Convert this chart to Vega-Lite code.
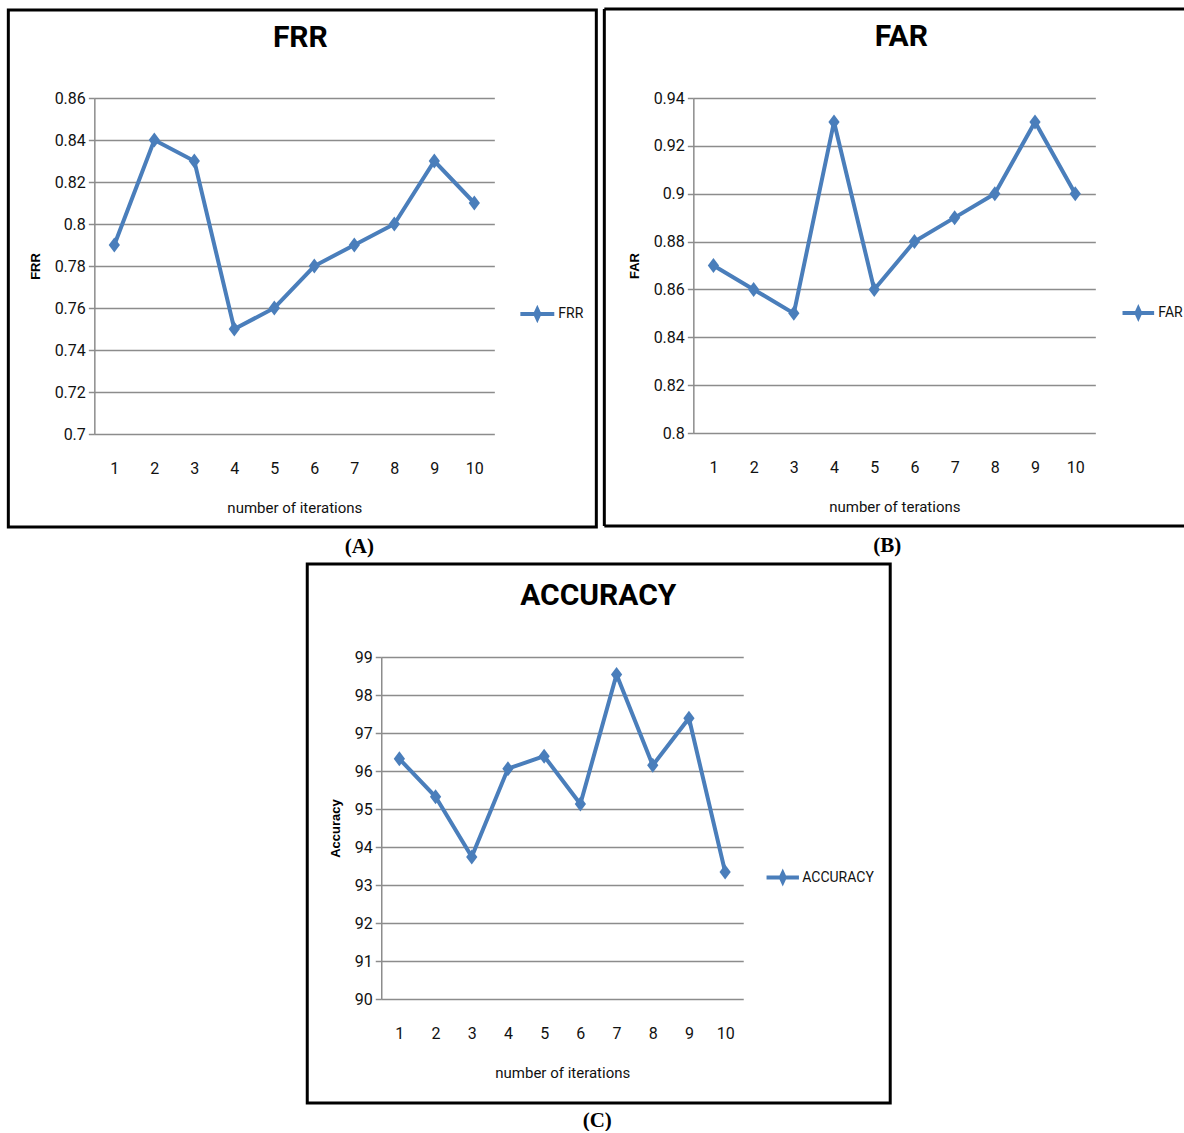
{
  "$schema": "https://vega.github.io/schema/vega-lite/v6.json",
  "padding": {"left": 6, "top": 7, "right": 0, "bottom": 0},
  "background": "white",
  "datasets": {
    "frr": [
      {"iter": 1, "value": 0.79, "series": "FRR"},
      {"iter": 2, "value": 0.84, "series": "FRR"},
      {"iter": 3, "value": 0.83, "series": "FRR"},
      {"iter": 4, "value": 0.75, "series": "FRR"},
      {"iter": 5, "value": 0.76, "series": "FRR"},
      {"iter": 6, "value": 0.78, "series": "FRR"},
      {"iter": 7, "value": 0.79, "series": "FRR"},
      {"iter": 8, "value": 0.80, "series": "FRR"},
      {"iter": 9, "value": 0.83, "series": "FRR"},
      {"iter": 10, "value": 0.81, "series": "FRR"}
    ],
    "far": [
      {"iter": 1, "value": 0.87, "series": "FAR"},
      {"iter": 2, "value": 0.86, "series": "FAR"},
      {"iter": 3, "value": 0.85, "series": "FAR"},
      {"iter": 4, "value": 0.93, "series": "FAR"},
      {"iter": 5, "value": 0.86, "series": "FAR"},
      {"iter": 6, "value": 0.88, "series": "FAR"},
      {"iter": 7, "value": 0.89, "series": "FAR"},
      {"iter": 8, "value": 0.90, "series": "FAR"},
      {"iter": 9, "value": 0.93, "series": "FAR"},
      {"iter": 10, "value": 0.90, "series": "FAR"}
    ],
    "acc": [
      {"iter": 1, "value": 96.32, "series": "ACCURACY"},
      {"iter": 2, "value": 95.32, "series": "ACCURACY"},
      {"iter": 3, "value": 93.74, "series": "ACCURACY"},
      {"iter": 4, "value": 96.06, "series": "ACCURACY"},
      {"iter": 5, "value": 96.39, "series": "ACCURACY"},
      {"iter": 6, "value": 95.13, "series": "ACCURACY"},
      {"iter": 7, "value": 98.54, "series": "ACCURACY"},
      {"iter": 8, "value": 96.15, "series": "ACCURACY"},
      {"iter": 9, "value": 97.39, "series": "ACCURACY"},
      {"iter": 10, "value": 93.34, "series": "ACCURACY"}
    ]
  },
  "config": {
    "view": {"stroke": null},
    "font": "Roboto",
    "axisY": {
      "grid": true, "gridColor": "#8c8c8c", "gridWidth": 1.5,
      "domainColor": "#8c8c8c", "domainWidth": 1.5,
      "tickColor": "#8c8c8c", "tickSize": 6, "tickWidth": 1.5, "tickCount": 20,
      "labelFont": "Roboto", "labelFontSize": 16, "labelColor": "#111", "labelPadding": 3,
      "titleFont": "Liberation Sans", "titleFontSize": 13, "titleFontWeight": "bold", "titleColor": "black", "titlePadding": 12
    },
    "axisX": {
      "grid": false, "ticks": false, "domain": false, "tickCount": 20,
      "labelFont": "Roboto", "labelFontSize": 16, "labelColor": "#111", "labelPadding": 26,
      "titleFont": "Roboto", "titleFontSize": 15, "titleFontWeight": "normal", "titleColor": "#111", "titlePadding": 24
    },
    "title": {"font": "Roboto", "fontSize": 30, "fontWeight": "bold", "color": "black", "baseline": "alphabetic"},
    "legend": {
      "title": null, "padding": 0,
      "symbolType": "M-1,0H1M0,-0.26L0.12,0L0,0.26L-0.12,0Z",
      "symbolSize": 1150, "symbolStrokeWidth": 4, "symbolStrokeColor": "#4a7ebb", "symbolFillColor": "#4a7ebb",
      "labelFont": "Roboto", "labelFontSize": 14, "labelColor": "#111", "labelOffset": 2
    }
  },
  "resolve": {"scale": {"color": "independent"}, "legend": {"color": "independent"}},
  "vconcat": [
    {
      "resolve": {"scale": {"color": "independent"}, "legend": {"color": "independent"}},
      "hconcat": [
        {
          "width": 400, "height": 336,
          "title": {"text": "FRR", "dx": 6, "offset": -44.5},
          "layer": [
            {
              "data": {"values": [{}]},
              "mark": {"type": "rect", "fill": null, "stroke": "black", "strokeWidth": 3},
              "encoding": {
                "x": {"datum": -1.65, "type": "quantitative"}, "x2": {"datum": 13.05},
                "y": {"datum": 0.9019, "type": "quantitative"}, "y2": {"datum": 0.6557}
              }
            },
            {
              "data": {"values": [{}]},
              "mark": {"type": "text", "text": "(A)", "font": "Liberation Serif", "fontWeight": "bold", "fontSize": 21, "color": "black"},
              "encoding": {
                "x": {"datum": 7.125, "type": "quantitative"},
                "y": {"datum": 0.6462, "type": "quantitative"}
              }
            },
            {
              "data": {"name": "frr"},
              "mark": {"type": "line", "strokeWidth": 4, "point": {"shape": "M0,-1L0.75,0L0,1L-0.75,0Z", "size": 225, "filled": true}},
              "encoding": {
                "x": {"field": "iter", "type": "quantitative", "scale": {"domain": [0.5, 10.5], "nice": false, "zero": false},
                      "axis": {"values": [1,2,3,4,5,6,7,8,9,10], "format": "d", "title": "number of iterations"}},
                "y": {"field": "value", "type": "quantitative", "scale": {"domain": [0.70, 0.86], "nice": false, "zero": false},
                      "axis": {"values": [0.70,0.72,0.74,0.76,0.78,0.80,0.82,0.84,0.86], "format": ".2~f", "title": "FRR"}},
                "color": {"field": "series", "type": "nominal", "scale": {"range": ["#4a7ebb"]},
                          "legend": {"orient": "none", "legendX": 424, "legendY": 197}}
              }
            }
          ]
        },
        {
          "width": 402, "height": 335,
          "title": {"text": "FAR", "dx": 7, "offset": -45},
          "layer": [
            {
              "data": {"values": [{}]},
              "mark": {"type": "rule", "stroke": "black", "strokeWidth": 3},
              "encoding": {
                "x": {"datum": -1.714, "type": "quantitative"}, "x2": {"datum": 12.71},
                "y": {"datum": 0.9772, "type": "quantitative"}
              }
            },
            {
              "data": {"values": [{}]},
              "mark": {"type": "rule", "stroke": "black", "strokeWidth": 3},
              "encoding": {
                "x": {"datum": -1.714, "type": "quantitative"}, "x2": {"datum": 12.71},
                "y": {"datum": 0.7611, "type": "quantitative"}
              }
            },
            {
              "data": {"values": [{}]},
              "mark": {"type": "rule", "stroke": "black", "strokeWidth": 3},
              "encoding": {
                "x": {"datum": -1.714, "type": "quantitative"},
                "y": {"datum": 0.9772, "type": "quantitative"}, "y2": {"datum": 0.7611}
              }
            },
            {
              "data": {"values": [{}]},
              "mark": {"type": "text", "text": "(B)", "font": "Liberation Serif", "fontWeight": "bold", "fontSize": 21, "color": "black"},
              "encoding": {
                "x": {"datum": 5.326, "type": "quantitative"},
                "y": {"datum": 0.7528, "type": "quantitative"}
              }
            },
            {
              "data": {"name": "far"},
              "mark": {"type": "line", "strokeWidth": 4, "point": {"shape": "M0,-1L0.75,0L0,1L-0.75,0Z", "size": 225, "filled": true}},
              "encoding": {
                "x": {"field": "iter", "type": "quantitative", "scale": {"domain": [0.5, 10.5], "nice": false, "zero": false},
                      "axis": {"values": [1,2,3,4,5,6,7,8,9,10], "format": "d", "title": "number of terations"}},
                "y": {"field": "value", "type": "quantitative", "scale": {"domain": [0.80, 0.94], "nice": false, "zero": false},
                      "axis": {"values": [0.80,0.82,0.84,0.86,0.88,0.90,0.92,0.94], "format": ".2~f", "title": "FAR"}},
                "color": {"field": "series", "type": "nominal", "scale": {"range": ["#4a7ebb"]},
                          "legend": {"orient": "none", "legendX": 427, "legendY": 197, "symbolSize": 1000}}
              }
            }
          ]
        }
      ],
      "spacing": 4
    },
    {
      "width": 362, "height": 342,
      "title": {"text": "ACCURACY", "dx": 36, "offset": -48.5},
      "layer": [
        {
          "data": {"values": [{}]},
          "mark": {"type": "rect", "fill": null, "stroke": "black", "strokeWidth": 3},
          "encoding": {
            "x": {"datum": -1.544, "type": "quantitative"}, "x2": {"datum": 14.56},
            "y": {"datum": 101.447, "type": "quantitative"}, "y2": {"datum": 87.263}
          }
        },
        {
          "data": {"values": [{}]},
          "mark": {"type": "text", "text": "(C)", "font": "Liberation Serif", "fontWeight": "bold", "fontSize": 21, "color": "black"},
          "encoding": {
            "x": {"datum": 6.467, "type": "quantitative"},
            "y": {"datum": 86.79, "type": "quantitative"}
          }
        },
        {
          "data": {"name": "acc"},
          "mark": {"type": "line", "strokeWidth": 4, "point": {"shape": "M0,-1L0.75,0L0,1L-0.75,0Z", "size": 225, "filled": true}},
          "encoding": {
            "x": {"field": "iter", "type": "quantitative", "scale": {"domain": [0.5, 10.5], "nice": false, "zero": false},
                  "axis": {"values": [1,2,3,4,5,6,7,8,9,10], "format": "d", "title": "number of iterations"}},
            "y": {"field": "value", "type": "quantitative", "scale": {"domain": [90, 99], "nice": false, "zero": false},
                  "axis": {"values": [90,91,92,93,94,95,96,97,98,99], "format": "d", "title": "Accuracy"}},
            "color": {"field": "series", "type": "nominal", "scale": {"range": ["#4a7ebb"]},
                      "legend": {"orient": "none", "legendX": 358.5, "legendY": 177.5, "padding": 24.5, "symbolSize": 1050, "labelOffset": 1}}
          }
        }
      ]
    }
  ],
  "spacing": 5,
  "center": true
}
